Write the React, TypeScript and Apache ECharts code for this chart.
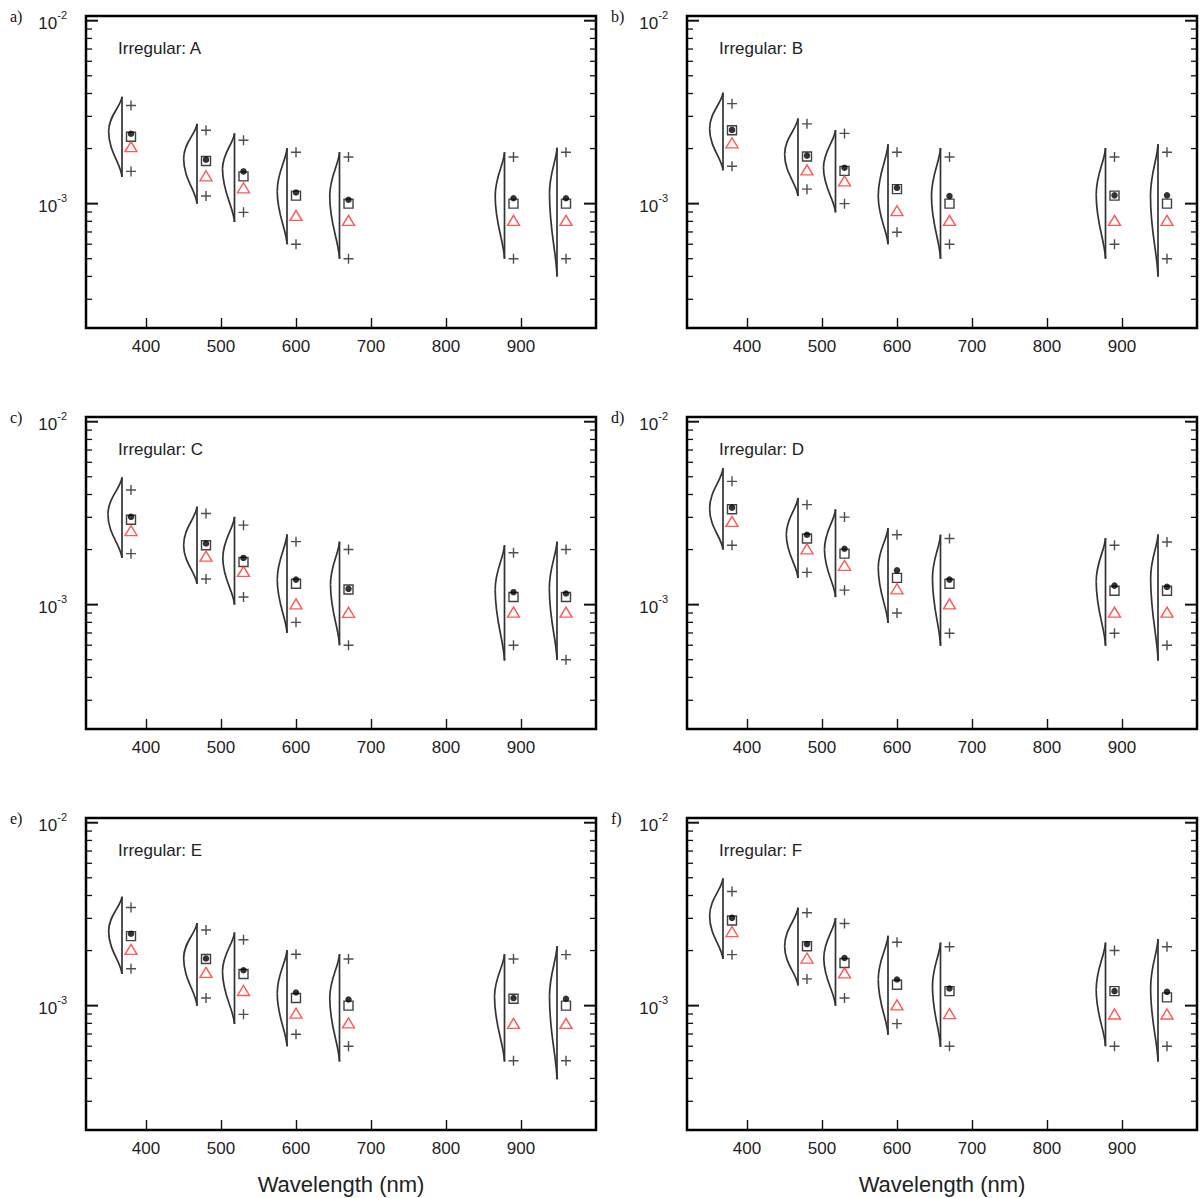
import React, { useEffect, useRef } from "react";
import * as echarts from "echarts";

// ---------- data (rows = panels a..f, columns = wavelengths) ----------
const wavelengths = [380, 480, 530, 600, 670, 890, 960];
const panelLetters = ["a)", "b)", "c)", "d)", "e)", "f)"];
const panelTitles = ["Irregular: A", "Irregular: B", "Irregular: C", "Irregular: D", "Irregular: E", "Irregular: F"];
const xTickValues = [400, 500, 600, 700, 800, 900];
const yMajorTicks = [1e-3, 1e-2];
const yMinorTicks = [3e-4, 4e-4, 5e-4, 6e-4, 7e-4, 8e-4, 9e-4, 2e-3, 3e-3, 4e-3, 5e-3, 6e-3, 7e-3, 8e-3, 9e-3];

const violinMax = [
  [3.84e-3, 2.73e-3, 2.42e-3, 2.01e-3, 1.91e-3, 1.91e-3, 2.02e-3],
  [4.04e-3, 2.92e-3, 2.52e-3, 2.11e-3, 2.01e-3, 2.01e-3, 2.11e-3],
  [4.96e-3, 3.43e-3, 3.02e-3, 2.42e-3, 2.21e-3, 2.11e-3, 2.21e-3],
  [5.56e-3, 3.83e-3, 3.32e-3, 2.62e-3, 2.41e-3, 2.31e-3, 2.42e-3],
  [3.94e-3, 2.83e-3, 2.51e-3, 2.01e-3, 1.91e-3, 1.91e-3, 2.11e-3],
  [4.96e-3, 3.43e-3, 3.01e-3, 2.41e-3, 2.21e-3, 2.21e-3, 2.31e-3],
];
const violinMin = [
  [1.4e-3, 1.0e-3, 7.93e-4, 6.0e-4, 5.0e-4, 5.0e-4, 4.0e-4],
  [1.52e-3, 1.1e-3, 8.96e-4, 6.0e-4, 5.0e-4, 5.0e-4, 4.0e-4],
  [1.8e-3, 1.3e-3, 1.0e-3, 7.0e-4, 6.0e-4, 4.95e-4, 5.0e-4],
  [2.0e-3, 1.4e-3, 1.1e-3, 7.93e-4, 5.96e-4, 5.96e-4, 4.95e-4],
  [1.49e-3, 1.0e-3, 7.93e-4, 6.0e-4, 4.95e-4, 4.95e-4, 3.96e-4],
  [1.8e-3, 1.29e-3, 1.0e-3, 6.94e-4, 5.94e-4, 6.0e-4, 4.95e-4],
];
const violinPeak = [
  [2.49e-3, 1.765e-3, 1.55e-3, 1.17e-3, 1.1e-3, 1.1e-3, 1.14e-3],
  [2.57e-3, 1.86e-3, 1.57e-3, 1.1e-3, 1.1e-3, 1.12e-3, 1.1e-3],
  [3.11e-3, 2.11e-3, 1.8e-3, 1.37e-3, 1.29e-3, 1.21e-3, 1.23e-3],
  [3.34e-3, 2.42e-3, 2.0e-3, 1.59e-3, 1.4e-3, 1.34e-3, 1.4e-3],
  [2.56e-3, 1.82e-3, 1.54e-3, 1.17e-3, 1.1e-3, 1.12e-3, 1.12e-3],
  [3.09e-3, 2.11e-3, 1.82e-3, 1.39e-3, 1.28e-3, 1.22e-3, 1.25e-3],
];
// density width of each half violin, in nm of the x axis
const violinWidth = [
  [17.8, 17.8, 16, 13, 13, 12.4, 10],
  [17.8, 17.8, 16, 13, 12, 12.4, 10],
  [18.7, 17.8, 15.6, 13, 12, 12.4, 10.2],
  [17.8, 15.6, 14.7, 13, 10.7, 12.4, 9.8],
  [17.8, 17.8, 16, 13, 13, 13.3, 10],
  [17.8, 17.8, 15.6, 13, 10.7, 12.4, 9.8],
];
const upperPlus = [
  [3.44e-3, 2.52e-3, 2.22e-3, 1.91e-3, 1.8e-3, 1.8e-3, 1.91e-3],
  [3.52e-3, 2.73e-3, 2.42e-3, 1.91e-3, 1.8e-3, 1.8e-3, 1.91e-3],
  [4.23e-3, 3.15e-3, 2.72e-3, 2.21e-3, 2.0e-3, 1.92e-3, 2.0e-3],
  [4.72e-3, 3.52e-3, 3.01e-3, 2.41e-3, 2.3e-3, 2.11e-3, 2.2e-3],
  [3.44e-3, 2.59e-3, 2.29e-3, 1.91e-3, 1.8e-3, 1.8e-3, 1.9e-3],
  [4.21e-3, 3.22e-3, 2.81e-3, 2.22e-3, 2.1e-3, 2.0e-3, 2.1e-3],
];
const lowerPlus = [
  [1.5e-3, 1.1e-3, 8.96e-4, 6.0e-4, 5.0e-4, 5.0e-4, 5.0e-4],
  [1.6e-3, 1.2e-3, 1.0e-3, 6.97e-4, 6.0e-4, 6.0e-4, 5.0e-4],
  [1.9e-3, 1.38e-3, 1.1e-3, 8.0e-4, 6.0e-4, 6.0e-4, 5.0e-4],
  [2.11e-3, 1.5e-3, 1.2e-3, 9.0e-4, 6.97e-4, 6.97e-4, 6.0e-4],
  [1.59e-3, 1.1e-3, 8.96e-4, 6.97e-4, 6.0e-4, 5.0e-4, 5.0e-4],
  [1.9e-3, 1.4e-3, 1.1e-3, 7.97e-4, 6.0e-4, 6.0e-4, 6.0e-4],
];
const dotValues = [
  [2.41e-3, 1.74e-3, 1.5e-3, 1.15e-3, 1.05e-3, 1.07e-3, 1.07e-3],
  [2.53e-3, 1.83e-3, 1.57e-3, 1.22e-3, 1.1e-3, 1.11e-3, 1.11e-3],
  [3.02e-3, 2.16e-3, 1.8e-3, 1.37e-3, 1.22e-3, 1.17e-3, 1.15e-3],
  [3.39e-3, 2.41e-3, 2.02e-3, 1.54e-3, 1.37e-3, 1.27e-3, 1.25e-3],
  [2.47e-3, 1.81e-3, 1.56e-3, 1.18e-3, 1.08e-3, 1.1e-3, 1.09e-3],
  [3.02e-3, 2.17e-3, 1.82e-3, 1.39e-3, 1.24e-3, 1.2e-3, 1.19e-3],
];
const squareValues = [
  [2.32e-3, 1.71e-3, 1.41e-3, 1.106e-3, 1.0e-3, 1.0e-3, 1.0e-3],
  [2.52e-3, 1.81e-3, 1.51e-3, 1.2e-3, 1.0e-3, 1.106e-3, 1.0e-3],
  [2.91e-3, 2.11e-3, 1.71e-3, 1.3e-3, 1.21e-3, 1.1e-3, 1.1e-3],
  [3.32e-3, 2.3e-3, 1.9e-3, 1.4e-3, 1.3e-3, 1.19e-3, 1.19e-3],
  [2.4e-3, 1.8e-3, 1.49e-3, 1.1e-3, 1.0e-3, 1.09e-3, 1.0e-3],
  [2.92e-3, 2.11e-3, 1.71e-3, 1.3e-3, 1.2e-3, 1.2e-3, 1.11e-3],
];
const triangleValues = [
  [2.05e-3, 1.42e-3, 1.22e-3, 8.63e-4, 8.1e-4, 8.1e-4, 8.1e-4],
  [2.15e-3, 1.53e-3, 1.33e-3, 9.15e-4, 8.1e-4, 8.1e-4, 8.1e-4],
  [2.54e-3, 1.84e-3, 1.52e-3, 1.01e-3, 9.08e-4, 9.1e-4, 9.1e-4],
  [2.85e-3, 2.02e-3, 1.64e-3, 1.22e-3, 1.01e-3, 9.1e-4, 9.1e-4],
  [2.03e-3, 1.52e-3, 1.21e-3, 9.1e-4, 8.04e-4, 8.0e-4, 8.0e-4],
  [2.54e-3, 1.82e-3, 1.51e-3, 1.01e-3, 9.04e-4, 9.0e-4, 9.0e-4],
];

// ---------- layout / style ----------
const X_MIN = 320;
const X_MAX = 1000;
const Y_MIN = 2.09e-4;
const Y_MAX = 1.061e-2;
const VIOLIN_GAP = 12; // nm between violin base line and markers
const SANS = '"Liberation Sans", Arial, Helvetica, sans-serif';
const SERIF = '"Liberation Serif", "Times New Roman", serif';
const COL_LEFT = [86, 687];
const ROW_TOP = [16, 417, 818];
const GRID_W = 510;
const GRID_H = 312;

function buildOption() {
  const grids: any[] = [];
  const xAxes: any[] = [];
  const yAxes: any[] = [];
  const series: any[] = [];
  const graphic: any[] = [];

  for (let p = 0; p < 6; p++) {
    const col = p % 2;
    const row = Math.floor(p / 2);
    const left = COL_LEFT[col];
    const top = ROW_TOP[row];
    grids.push({
      left, top, width: GRID_W, height: GRID_H,
      show: true, borderColor: "#000", borderWidth: 2.5, backgroundColor: "transparent",
    });
    xAxes.push({
      gridIndex: p, type: "value", min: X_MIN, max: X_MAX,
      axisLine: { show: false },
      splitLine: { show: false },
      axisTick: { show: true, inside: true, length: 10, customValues: xTickValues, lineStyle: { color: "#111", width: 1.4 } },
      axisLabel: {
        customValues: xTickValues, fontSize: 17, color: "#222", fontFamily: SANS, margin: 10,
        formatter: (v: number) => (xTickValues.indexOf(v) >= 0 ? String(v) : ""),
      },
      name: row === 2 ? "Wavelength (nm)" : "",
      nameLocation: "middle", nameGap: 43,
      nameTextStyle: { fontSize: 22, fontFamily: SANS, color: "#222" },
    });
    yAxes.push({
      gridIndex: p, type: "log", logBase: 10, min: Y_MIN, max: Y_MAX,
      axisLine: { show: false }, axisTick: { show: false }, splitLine: { show: false },
      minorTick: { show: false }, minorSplitLine: { show: false },
      axisLabel: {
        margin: 19, color: "#222",
        formatter: (v: number) => {
          const e = Math.log10(v);
          if (Math.abs(e - Math.round(e)) > 1e-6) return "";
          return "{b|10}{s|" + Math.round(e) + "}";
        },
        rich: {
          b: { fontSize: 17, fontFamily: SANS, color: "#222", lineHeight: 22, verticalAlign: "bottom" },
          s: { fontSize: 11, fontFamily: SANS, color: "#222", lineHeight: 22, verticalAlign: "top" },
        },
      },
    });

    // y ticks (major + minor) on both sides
    series.push({
      type: "custom", xAxisIndex: p, yAxisIndex: p, silent: true, z: 5,
      data: [...yMajorTicks.map((v) => [X_MIN, v, 1]), ...yMinorTicks.map((v) => [X_MIN, v, 0])],
      renderItem: (params: any, api: any) => {
        const cs = params.coordSys;
        const y = api.coord([X_MIN, api.value(1)])[1];
        const major = api.value(2) === 1;
        const len = major ? 12 : 6;
        const st = { stroke: "#111", lineWidth: major ? 2 : 1.3 };
        return {
          type: "group",
          children: [
            { type: "line", shape: { x1: cs.x, y1: y, x2: cs.x + len, y2: y }, style: st },
            { type: "line", shape: { x1: cs.x + cs.width - len, y1: y, x2: cs.x + cs.width, y2: y }, style: st },
          ],
        };
      },
    });

    // half violins: straight base line + two S-shaped density flanks
    series.push({
      type: "custom", xAxisIndex: p, yAxisIndex: p, silent: true,
      data: wavelengths.map((w, i) => [w, violinMax[p][i], violinMin[p][i], violinPeak[p][i], violinWidth[p][i]]),
      renderItem: (params: any, api: any) => {
        const base = api.value(0) - VIOLIN_GAP;
        const t = api.coord([base, api.value(1)]);
        const b = api.coord([base, api.value(2)]);
        const k = api.coord([base - api.value(4), api.value(3)]);
        const st = { stroke: "#333", lineWidth: 1.7, fill: null };
        const up = k[1] - t[1];
        const dn = b[1] - k[1];
        return {
          type: "group",
          children: [
            { type: "line", shape: { x1: t[0], y1: t[1], x2: b[0], y2: b[1] }, style: st },
            {
              type: "bezierCurve",
              shape: { x1: t[0], y1: t[1], cpx1: t[0] - 0.1 * (t[0] - k[0]), cpy1: t[1] + up * 0.3, cpx2: k[0], cpy2: k[1] - up * 0.45, x2: k[0], y2: k[1] },
              style: st,
            },
            {
              type: "bezierCurve",
              shape: { x1: k[0], y1: k[1], cpx1: k[0], cpy1: k[1] + dn * 0.45, cpx2: b[0] - 0.1 * (b[0] - k[0]), cpy2: b[1] - dn * 0.3, x2: b[0], y2: b[1] },
              style: st,
            },
          ],
        };
      },
    });

    // plus markers
    series.push({
      type: "scatter", xAxisIndex: p, yAxisIndex: p, silent: true,
      symbol: "path://M0,5L10,5M5,0L5,10", symbolSize: 10,
      itemStyle: { color: "rgba(0,0,0,0)", borderColor: "#222", borderWidth: 1.4 },
      data: [...wavelengths.map((w, i) => [w, upperPlus[p][i]]), ...wavelengths.map((w, i) => [w, lowerPlus[p][i]])],
    });
    // open squares
    series.push({
      type: "scatter", xAxisIndex: p, yAxisIndex: p, silent: true,
      symbol: "rect", symbolSize: 9,
      itemStyle: { color: "rgba(0,0,0,0)", borderColor: "#111", borderWidth: 1.4 },
      data: wavelengths.map((w, i) => [w, squareValues[p][i]]),
    });
    // filled dots
    series.push({
      type: "scatter", xAxisIndex: p, yAxisIndex: p, silent: true,
      symbol: "circle", symbolSize: 6.5,
      itemStyle: { color: "#000" },
      data: wavelengths.map((w, i) => [w, dotValues[p][i]]),
    });
    // red triangles
    series.push({
      type: "scatter", xAxisIndex: p, yAxisIndex: p, silent: true,
      symbol: "triangle", symbolSize: [12, 10],
      itemStyle: { color: "rgba(0,0,0,0)", borderColor: "#ff3030", borderWidth: 1.4 },
      data: wavelengths.map((w, i) => [w, triangleValues[p][i]]),
    });

    graphic.push({
      type: "text", left: left - 76, top: top - 8,
      style: { text: panelLetters[p], font: "16px " + SERIF, fill: "#111" },
    });
    graphic.push({
      type: "text", left: left + 32, top: top + 24,
      style: { text: panelTitles[p], font: "17px " + SANS, fill: "#222" },
    });
  }

  return {
    animation: false,
    backgroundColor: "#fff",
    grid: grids,
    xAxis: xAxes,
    yAxis: yAxes,
    series,
    graphic,
  };
}

export default function App() {
  const ref = useRef<HTMLDivElement>(null);
  useEffect(() => {
    if (!ref.current) return;
    const chart = echarts.init(ref.current, undefined, { renderer: "svg" });
    chart.setOption(buildOption() as any);
    return () => chart.dispose();
  }, []);
  return <div ref={ref} style={{ position: "absolute", left: 0, top: 0, width: 1200, height: 1198 }} />;
}
